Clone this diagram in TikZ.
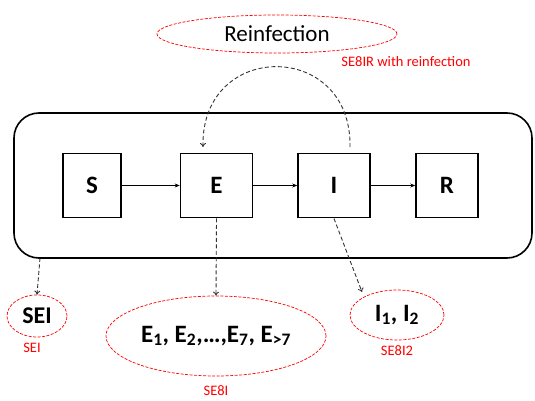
\documentclass[tikz,border=0pt]{standalone}
\usepackage{fontspec}
\setmainfont{Carlito}
\usetikzlibrary{arrows.meta,shapes.geometric}
\newcommand{\sbs}[1]{\textsubscript{#1}}
\begin{document}
\begin{tikzpicture}[x=1pt,y=-1pt,
  statebox/.style={draw,line width=1.6pt,minimum width=72pt,minimum height=64pt,inner sep=0pt,font=\fontsize{25}{30}\selectfont\bfseries},
  redell/.style={draw=red,ellipse,dash pattern=on 3pt off 1.5pt,line width=0.7pt,inner sep=0pt},
  redlab/.style={text=red,font=\fontsize{14.5}{17}\selectfont},
  flow/.style={-{Stealth[length=5pt,width=4pt]},line width=0.6pt},
  dasharrow/.style={dash pattern=on 4pt off 2.5pt,line width=0.9pt,-{To[length=4pt,width=6pt]},draw=black!80}]
\useasboundingbox (0,0) rectangle (535,401);
\node[draw,line width=1.6pt,rounded corners=25pt,minimum width=518pt,minimum height=145pt,inner sep=0pt] (outer) at (273,185.5) {};
\node[statebox,minimum width=58pt] (S) at (92,185.5) {S};
\node[statebox,minimum width=72pt] (E) at (216.5,185.5) {E};
\node[statebox,minimum width=72pt] (I) at (334,185.5) {I};
\node[statebox,minimum width=62pt] (R) at (447,185.5) {R};
\draw[flow] (S) -- (E);
\draw[flow] (E) -- (I);
\draw[flow] (I) -- (R);
\node[redell,minimum width=240pt,minimum height=38pt,font=\fontsize{23}{28}\selectfont] (reinf) at (277,34) {Reinfection};
\node[redlab] (reinflab) at (406,62) {SE8IR with reinfection};
\coordinate (Itop) at (350,147);
\coordinate (Etop) at (203,147);
\draw[dasharrow] (Itop) .. controls (352,40) and (201,40) .. (Etop);
\node[redell,minimum width=60pt,minimum height=42pt,font=\fontsize{24}{28}\selectfont\bfseries] (sei) at (37,316) {SEI};
\node[redlab] (seilab) at (32,348) {SEI};
\node[redell,minimum width=220pt,minimum height=80pt,font=\fontsize{25}{30}\selectfont\bfseries] (eell) at (216,336) {E\sbs{1}, E\sbs{2},\dots,E\sbs{7}, E\sbs{>7}};
\node[redlab] (eelllab) at (216,391) {SE8I};
\node[redell,minimum width=94pt,minimum height=50pt,font=\fontsize{25}{30}\selectfont\bfseries] (iell) at (397,315) {I\sbs{1}, I\sbs{2}};
\node[redlab] (iellab) at (397,351) {SE8I2};
\coordinate (outbot) at (40,258);
\draw[dasharrow] (outbot) -- (sei.north);
\draw[dasharrow] (E.south) -- (eell.north);
\coordinate (Ibot) at (334,218.5);
\draw[dasharrow] (Ibot) -- (362,292);
\end{tikzpicture}
\end{document}
